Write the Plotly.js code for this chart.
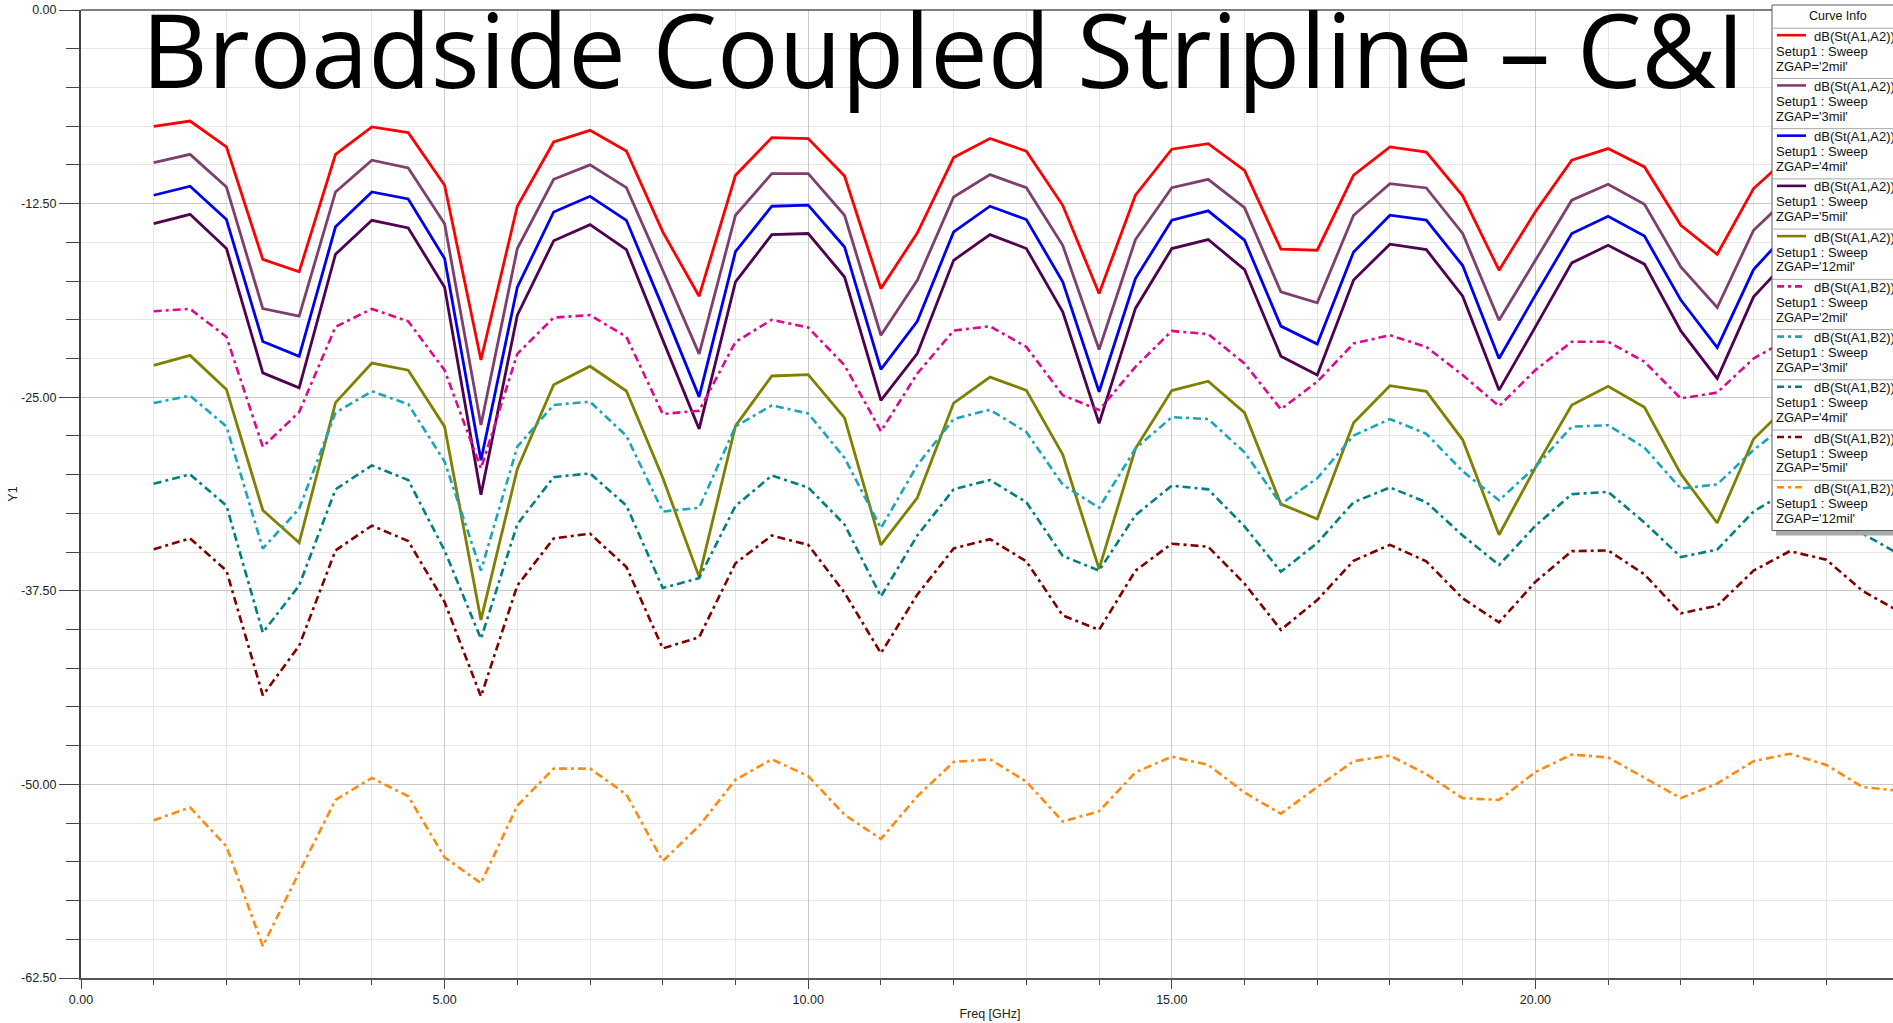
<!DOCTYPE html>
<html>
<head>
<meta charset="utf-8">
<script src="https://cdn.plot.ly/plotly-3.0.1.min.js"></script>
<style>
html, body { margin: 0; padding: 0; overflow: hidden; background: #ffffff; width: 1893px; height: 1023px; }
#chart { width: 1899px; height: 1023px; }
</style>
</head>
<body>
<div id="chart"></div>
<script>
// ---------------- DATA ----------------
const freqGHz = [1, 1.5, 2, 2.5, 3, 3.5, 4, 4.5, 5, 5.5, 6, 6.5, 7, 7.5, 8, 8.5, 9, 9.5, 10, 10.5,
  11, 11.5, 12, 12.5, 13, 13.5, 14, 14.5, 15, 15.5, 16, 16.5, 17, 17.5, 18, 18.5, 19, 19.5, 20, 20.5,
  21, 21.5, 22, 22.5, 23, 23.5, 24, 24.5, 25];

const stA1A2_2mil = [-7.51, -7.17, -8.84, -16.1, -16.9, -9.32, -7.55, -7.92, -11.32, -22.6,
  -12.67, -8.52, -7.77, -9.1, -14.33, -18.48, -10.67, -8.24, -8.3, -10.72,
  -17.99, -14.4, -9.53, -8.3, -9.12, -12.61, -18.3, -11.96, -8.99, -8.63,
  -10.35, -15.44, -15.51, -10.67, -8.84, -9.17, -12.0, -16.8, -13.03, -9.7,
  -8.95, -10.13, -13.9, -15.77, -11.53, -9.4, -9.0, -10.2, -13.0];

const stA1A2_3mil = [-9.85, -9.32, -11.43, -19.28, -19.77, -11.75, -9.70, -10.2, -13.8, -26.8,
  -15.4, -10.93, -10.0, -11.47, -16.8, -22.2, -13.25, -10.56, -10.56, -13.25,
  -21.0, -17.45, -12.07, -10.63, -11.47, -15.19, -21.92, -14.82, -11.47, -10.93,
  -12.76, -18.2, -18.91, -13.25, -11.21, -11.49, -14.43, -20.03, -16.16, -12.28,
  -11.25, -12.54, -16.59, -19.21, -14.22, -12.0, -11.5, -12.8, -16.0];

const stA1A2_4mil = [-11.96, -11.38, -13.53, -21.4, -22.36, -14.0, -11.75, -12.2, -16.05, -29.07,
  -17.9, -13.04, -12.03, -13.58, -19.2, -24.98, -15.6, -12.67, -12.6, -15.3,
  -23.2, -20.1, -14.33, -12.67, -13.53, -17.55, -24.65, -17.34, -13.57, -12.97,
  -14.86, -20.41, -21.57, -15.62, -13.25, -13.57, -16.5, -22.5, -18.41, -14.43,
  -13.32, -14.6, -18.73, -21.79, -16.76, -14.2, -13.6, -14.9, -18.3];

const stA1A2_5mil = [-13.8, -13.19, -15.4, -23.43, -24.4, -15.77, -13.58, -14.07, -17.9, -31.3,
  -19.7, -14.9, -13.86, -15.47, -21.3, -27.05, -17.56, -14.5, -14.43, -17.24,
  -25.2, -22.18, -16.16, -14.5, -15.4, -19.49, -26.69, -19.27, -15.4, -14.82,
  -16.76, -22.35, -23.57, -17.44, -15.12, -15.47, -18.48, -24.54, -20.46, -16.33,
  -15.19, -16.41, -20.72, -23.79, -18.52, -16.0, -15.4, -16.7, -20.2];

const stA1A2_12mil = [-22.94, -22.3, -24.5, -32.3, -34.4, -25.35, -22.8, -23.26, -26.9, -39.38,
  -29.63, -24.2, -23.0, -24.6, -30.2, -36.6, -26.85, -23.63, -23.54, -26.33,
  -34.53, -31.5, -25.38, -23.7, -24.56, -28.7, -36.08, -28.32, -24.57, -23.97,
  -26.0, -31.9, -32.86, -26.65, -24.26, -24.62, -27.75, -33.88, -29.55, -25.5,
  -24.3, -25.65, -29.95, -33.12, -27.7, -25.4, -24.6, -25.9, -29.5];

const stA1B2_2mil = [-19.45, -19.3, -21.1, -28.2, -25.96, -20.46, -19.3, -20.1, -23.26, -29.6,
  -22.2, -19.86, -19.7, -21.1, -26.08, -25.88, -21.43, -20.0, -20.5, -22.94,
  -27.2, -23.47, -20.7, -20.42, -21.75, -24.87, -25.83, -23.04, -20.72, -20.93,
  -22.82, -25.78, -24.0, -21.53, -21.0, -21.75, -23.57, -25.58, -23.25, -21.42,
  -21.42, -22.71, -25.08, -24.7, -22.5, -21.2, -21.3, -22.6, -24.8];

const stA1B2_3mil = [-25.38, -24.9, -26.89, -34.77, -32.2, -26.0, -24.62, -25.45, -29.16, -36.2,
  -28.2, -25.5, -25.29, -27.5, -32.38, -32.14, -26.89, -25.53, -26.05, -28.92,
  -33.45, -29.39, -26.41, -25.81, -27.25, -30.65, -32.14, -28.32, -26.29, -26.41,
  -28.56, -31.9, -30.23, -27.48, -26.41, -27.36, -29.78, -31.66, -29.5, -26.9,
  -26.81, -28.26, -30.9, -30.63, -28.4, -26.6, -26.4, -27.6, -30.0];

const stA1B2_4mil = [-30.59, -29.99, -32.0, -40.2, -37.16, -30.95, -29.4, -30.35, -34.9, -40.6,
  -33.2, -30.16, -29.92, -32.0, -37.32, -36.68, -32.02, -30.06, -30.83, -33.22,
  -37.87, -33.93, -30.95, -30.35, -31.78, -35.25, -36.2, -32.62, -30.71, -30.95,
  -33.34, -36.27, -34.41, -31.78, -30.83, -31.78, -33.93, -35.84, -33.3, -31.26,
  -31.11, -33.1, -35.32, -34.84, -32.38, -31.0, -31.8, -33.81, -35.13];

const stA1B2_5mil = [-34.82, -34.12, -36.2, -44.25, -41.05, -34.89, -33.29, -34.29, -38.23, -44.32,
  -37.16, -34.12, -33.81, -35.96, -41.22, -40.5, -35.72, -33.93, -34.53, -37.63,
  -41.53, -37.75, -34.77, -34.17, -35.6, -39.09, -40.02, -36.2, -34.46, -34.65,
  -37.04, -40.02, -38.1, -35.56, -34.53, -35.6, -37.99, -39.54, -36.92, -34.94,
  -34.89, -36.44, -38.95, -38.47, -36.2, -34.94, -35.49, -37.51, -38.83];

const stA1B2_12mil = [-52.32, -51.49, -54.0, -60.44, -55.67, -51.0, -49.58, -50.77, -54.71, -56.38,
  -51.37, -48.98, -48.98, -50.65, -54.95, -52.68, -49.7, -48.38, -49.46, -51.96,
  -53.52, -50.77, -48.55, -48.38, -49.82, -52.4, -51.73, -49.22, -48.21, -48.74,
  -50.53, -51.89, -50.17, -48.5, -48.14, -49.34, -50.89, -51.0, -49.2, -48.07,
  -48.26, -49.58, -50.89, -49.94, -48.5, -48.02, -48.74, -50.17, -50.41];

const curveExprs = ["dB(St(A1,A2))", "dB(St(A1,A2))", "dB(St(A1,A2))", "dB(St(A1,A2))", "dB(St(A1,A2))",
  "dB(St(A1,B2))", "dB(St(A1,B2))", "dB(St(A1,B2))", "dB(St(A1,B2))", "dB(St(A1,B2))"];
const curveGaps = ["2mil", "3mil", "4mil", "5mil", "12mil", "2mil", "3mil", "4mil", "5mil", "12mil"];
const curveSetup = "Setup1 : Sweep";

const yTickVals = [0, -12.5, -25, -37.5, -50, -62.5];
const yTickText = ["0.00", "-12.50", "-25.00", "-37.50", "-50.00", "-62.50"];
const xTickVals = [0, 5, 10, 15, 20, 25];
const xTickText = ["0.00", "5.00", "10.00", "15.00", "20.00", "25.00"];

const chartTitle = "Broadside Coupled Stripline \u2013 C&amp;I";
const legendHeader = "Curve Info";
const xTitle = "Freq [GHz]";
const yTitle = "Y1";

// ---------------- STYLE ----------------
const seriesValues = [stA1A2_2mil, stA1A2_3mil, stA1A2_4mil, stA1A2_5mil, stA1A2_12mil,
  stA1B2_2mil, stA1B2_3mil, stA1B2_4mil, stA1B2_5mil, stA1B2_12mil];
const seriesColors = ["#ff0000", "#7f3f6e", "#0000f0", "#4f0050", "#808000",
  "#dc0a8c", "#1aa6b8", "#008080", "#800000", "#ff8a10"];
const DASHDOT = "8px,4px,3px,4px";
const seriesDash = ["solid", "solid", "solid", "solid", "solid", DASHDOT, DASHDOT, DASHDOT, DASHDOT, DASHDOT];

const W = 1899, H = 1023, ML = 81, MR = 0, MT = 10, MB = 45;
const PW = W - ML - MR, PH = H - MT - MB;
function px2x(px) { return (px - ML) / PW; }
function py2y(py) { return (H - MB - py) / PH; }

const FONT = "Liberation Sans, Arial, sans-serif";

const traces = seriesValues.map((vals, i) => ({
  type: "scatter",
  mode: "lines",
  x: freqGHz,
  y: vals,
  name: curveExprs[i] + " " + curveGaps[i],
  line: { color: seriesColors[i], width: seriesDash[i] === "solid" ? 2.8 : 2.6, dash: seriesDash[i] },
  showlegend: false,
  hoverinfo: "skip"
}));

// ---------------- custom "Curve Info" legend ----------------
const LG = { left: 1772, right: 1915, top: 5, bottom: 530.5, sep0: 28.2, pitch: 50.23 };
const LFS = 13;
const shapes = [];
const annotations = [];
shapes.push({ type: "rect", xref: "paper", yref: "paper", layer: "above",
  x0: px2x(LG.left + 4), x1: px2x(LG.right + 4), y0: py2y(LG.bottom + 5), y1: py2y(LG.top + 4),
  fillcolor: "#a9a9a9", line: { width: 0 } });
shapes.push({ type: "rect", xref: "paper", yref: "paper", layer: "above",
  x0: px2x(LG.left), x1: px2x(LG.right), y0: py2y(LG.bottom), y1: py2y(LG.top),
  fillcolor: "#ffffff", line: { color: "#5a5a5a", width: 1 } });
annotations.push({ xref: "paper", yref: "paper", x: px2x(1838), y: py2y(16), xanchor: "center", yanchor: "middle",
  text: legendHeader, showarrow: false, font: { family: FONT, size: 12.5, color: "#111" } });
seriesValues.forEach((vals, k) => {
  const T = LG.sep0 + k * LG.pitch;
  shapes.push({ type: "line", xref: "paper", yref: "paper", layer: "above",
    x0: px2x(LG.left), x1: px2x(LG.right), y0: py2y(T), y1: py2y(T),
    line: { color: "#a8a8a8", width: 1 } });
  shapes.push({ type: "line", xref: "paper", yref: "paper", layer: "above",
    x0: px2x(1777), x1: px2x(1806), y0: py2y(T + 7), y1: py2y(T + 7),
    line: { color: seriesColors[k], width: 2.6, dash: seriesDash[k] === "solid" ? "solid" : "7px,4px,3px,4px" } });
  annotations.push({ xref: "paper", yref: "paper", x: px2x(1812), y: py2y(T + 8), xanchor: "left", yanchor: "middle",
    text: curveExprs[k], showarrow: false, font: { family: FONT, size: LFS, color: "#111" } });
  annotations.push({ xref: "paper", yref: "paper", x: px2x(1774), y: py2y(T + 23), xanchor: "left", yanchor: "middle",
    text: curveSetup, showarrow: false, font: { family: FONT, size: LFS, color: "#111" } });
  annotations.push({ xref: "paper", yref: "paper", x: px2x(1774), y: py2y(T + 37.8), xanchor: "left", yanchor: "middle",
    text: "ZGAP='" + curveGaps[k] + "'", showarrow: false, font: { family: FONT, size: LFS, color: "#111" } });
});
// top frame line
shapes.unshift({ type: "line", xref: "paper", yref: "paper", layer: "above",
  x0: 0, x1: 1, y0: 1, y1: 1, line: { color: "#555", width: 1.5 } });

const layout = {
  width: W, height: H,
  margin: { l: ML, r: MR, t: MT, b: MB, pad: 0 },
  paper_bgcolor: "#ffffff", plot_bgcolor: "#ffffff",
  showlegend: false,
  font: { family: FONT, size: 12.5, color: "#222" },
  title: {
    text: chartTitle,
    font: { family: "Open Sans, sans-serif", size: 102.5, color: "#000" },
    xref: "container", yref: "container", x: 141 / 1893, xanchor: "left",
    y: 1 - 16 / H, yanchor: "top", pad: { t: 0, b: 0, l: 0, r: 0 }
  },
  xaxis: {
    range: [0, 25], autorange: false,
    tickmode: "array", tickvals: xTickVals, ticktext: xTickText,
    ticks: "outside", ticklen: 9, tickwidth: 1, tickcolor: "#444",
    showline: true, linecolor: "#555", linewidth: 2,
    showgrid: true, gridcolor: "#c9c9c9", gridwidth: 1, zeroline: false,
    minor: { tickmode: "linear", tick0: 0, dtick: 1, ticks: "outside", ticklen: 5, tickcolor: "#444",
      showgrid: true, gridcolor: "#e6e6e6", gridwidth: 1 },
    tickfont: { family: FONT, size: 12.5, color: "#222" },
    title: { text: xTitle, font: { family: FONT, size: 12.5, color: "#222" }, standoff: 3 },
    automargin: false
  },
  yaxis: {
    range: [-62.5, 0], autorange: false,
    tickmode: "array", tickvals: yTickVals, ticktext: yTickText,
    ticks: "outside", ticklen: 20, tickwidth: 1, tickcolor: "#444",
    showline: true, linecolor: "#444", linewidth: 2,
    showgrid: true, gridcolor: "#c9c9c9", gridwidth: 1, zeroline: false,
    minor: { tickmode: "linear", tick0: 0, dtick: 2.5, ticks: "outside", ticklen: 13, tickcolor: "#444",
      showgrid: true, gridcolor: "#e6e6e6", gridwidth: 1 },
    tickfont: { family: FONT, size: 12.5, color: "#222" },
    title: { text: yTitle, font: { family: FONT, size: 12.5, color: "#222" }, standoff: 1 },
    automargin: false
  },
  shapes: shapes,
  annotations: annotations
};

Plotly.newPlot("chart", traces, layout, { staticPlot: true, displayModeBar: false });
</script>
</body>
</html>
